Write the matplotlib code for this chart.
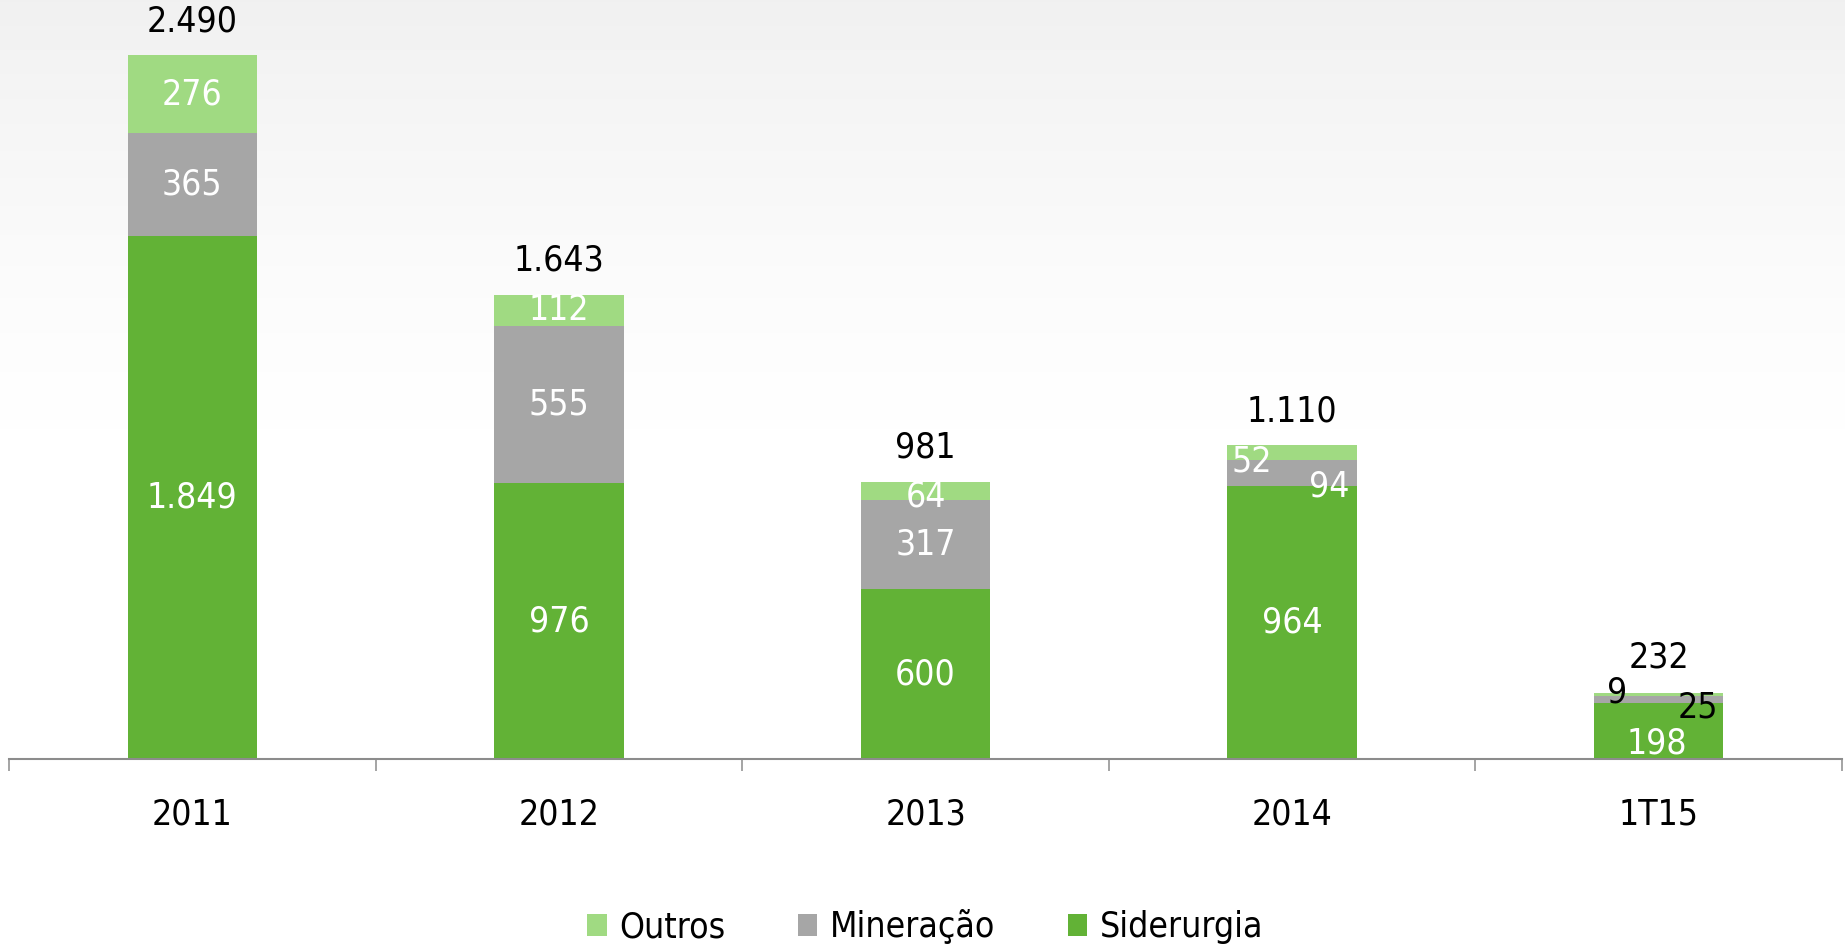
import numpy as np
import matplotlib
matplotlib.use("Agg")
import matplotlib.pyplot as plt
from matplotlib.patches import Patch

categories = ["2011", "2012", "2013", "2014", "1T15"]
siderurgia = [1849, 976, 600, 964, 198]
mineracao = [365, 555, 317, 94, 25]
outros = [276, 112, 64, 52, 9]
totals = [2490, 1643, 981, 1110, 232]
series_names = ["Outros", "Mineração", "Siderurgia"]

C_SID = "#62B236"
C_MIN = "#A6A6A6"
C_OUT = "#A0DA82"

plt.rcParams['font.family'] = ['DejaVu Sans']
FS = 25.5
FST = 'condensed'

def fmt(v):
    return f"{v:,}".replace(",", ".")

fig = plt.figure(figsize=(18.45, 9.51), dpi=100)
fig.patch.set_facecolor("white")

# subtle background gradient (grey at top fading to white)
bg = fig.add_axes([0, 0, 1, 1], zorder=-10)
g = np.linspace(0, 1, 400)          # 0 = bottom, 1 = top
shade = np.clip((g - 0.55) / 0.45, 0, 1)
vals = 1.0 - 0.055 * shade ** 1.3
col = np.repeat(vals[:, None], 2, axis=1)
bg.imshow(np.dstack([col, col, col]), aspect='auto', extent=[0, 1, 0, 1], origin='lower')
bg.axis('off')

ax = fig.add_axes([9/1845, (951-759)/951, (1842-9)/1845, (759-24)/951])
ax.patch.set_alpha(0)
x = np.arange(len(categories))
w = 0.353
sid = np.array(siderurgia); mi = np.array(mineracao); ou = np.array(outros)
ax.bar(x, sid, w, color=C_SID, label="Siderurgia", zorder=2)
ax.bar(x, mi, w, bottom=sid, color=C_MIN, label="Mineração", zorder=2)
ax.bar(x, ou, w, bottom=sid + mi, color=C_OUT, label="Outros", zorder=2)

ax.set_xlim(-0.5, len(categories) - 0.5)
ax.set_ylim(0, 2600)

for s in ["top", "right", "left"]:
    ax.spines[s].set_visible(False)
ax.spines["bottom"].set_color("#8C8C8C")
ax.spines["bottom"].set_linewidth(1.5)
ax.set_yticks([])
ax.set_xticks(np.arange(len(categories) + 1) - 0.5)
ax.set_xticklabels([])
ax.tick_params(axis='x', which='major', direction='out', length=8.5, width=1.1, color="#8C8C8C")
ax.set_xticks(x, minor=True)
ax.set_xticklabels(categories, minor=True, fontsize=FS, fontstretch=FST)
ax.tick_params(axis='x', which='minor', length=0, pad=28)

# label offsets in pixels (dx, dy_down) per category for each series
off_sid = [(0, 0), (0, 0), (0, 0), (0, 0), (-2, 12)]
off_min = [(0, 0), (0, 0), (0, 0), (37, 13), (39, 8)]
off_out = [(0, 0), (0, 0), (0, 6), (-40, 9), (-42, -2)]
col_sid = ["white"] * 5
col_min = ["white", "white", "white", "white", "black"]
col_out = ["white", "white", "white", "white", "black"]

def lab(xi, yc, text, off, color):
    ax.annotate(text, xy=(xi, yc), xytext=(off[0], -off[1]), textcoords='offset pixels',
                ha='center', va='center', fontsize=FS, fontstretch=FST, color=color, zorder=5,
                annotation_clip=False)

for i in range(len(categories)):
    lab(x[i], sid[i] / 2, fmt(sid[i]), off_sid[i], col_sid[i])
    lab(x[i], sid[i] + mi[i] / 2, fmt(mi[i]), off_min[i], col_min[i])
    lab(x[i], sid[i] + mi[i] + ou[i] / 2, fmt(ou[i]), off_out[i], col_out[i])
    dy = 36 if i == 4 else 34
    ax.annotate(fmt(totals[i]), xy=(x[i], totals[i]), xytext=(0, dy), textcoords='offset pixels',
                ha='center', va='center', fontsize=FS, fontstretch=FST, color="black",
                annotation_clip=False)

handles = [Patch(facecolor=C_OUT), Patch(facecolor=C_MIN), Patch(facecolor=C_SID)]
leg = fig.legend(handles, series_names, loc='center', bbox_to_anchor=(925/1845, 1 - 927/951),
                 ncol=3, frameon=False, prop={'size': FS, 'stretch': FST},
                 handlelength=0.55, handleheight=0.55, handletextpad=0.35, columnspacing=2.05)

fig.savefig("out.png", dpi=100)
